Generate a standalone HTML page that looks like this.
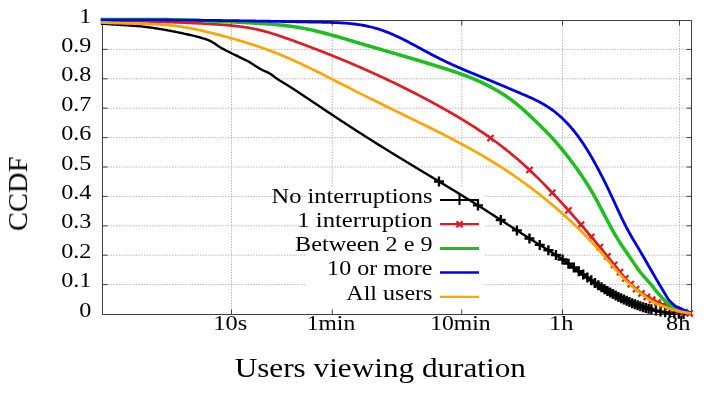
<!DOCTYPE html><html><head><meta charset="utf-8"><style>html,body{margin:0;padding:0;background:#fff;}svg{display:block;filter:blur(0.35px);}text{font-family:"Liberation Serif",serif;fill:#000;}.t{opacity:0.999;will-change:transform;}</style></head><body>
<svg width="709" height="396" viewBox="0 0 709 396">
<rect width="709" height="396" fill="#fff"/>
<path d="M102.0,284.60 H691.0 M102.0,255.20 H691.0 M102.0,225.80 H691.0 M102.0,196.40 H691.0 M102.0,167.00 H691.0 M102.0,137.60 H691.0 M102.0,108.20 H691.0 M102.0,78.80 H691.0 M102.0,49.40 H691.0 M231.50,20.0 V314.0 M332.27,20.0 V314.0 M461.77,20.0 V314.0 M562.54,20.0 V314.0 M679.49,20.0 V314.0" stroke="#b4b4b4" stroke-width="1" stroke-dasharray="1.4 1.4" fill="none"/>
<rect x="306" y="187" width="178.5" height="127" fill="#fff"/>
<path d="M102.5,20.5 H691.5 V314.5 H102.5 Z" stroke="#404040" stroke-width="1" fill="none"/>
<path d="M102.5,314.50h5M691.5,314.50h-5M102.5,284.60h5M691.5,284.60h-5M102.5,255.20h5M691.5,255.20h-5M102.5,225.80h5M691.5,225.80h-5M102.5,196.40h5M691.5,196.40h-5M102.5,167.00h5M691.5,167.00h-5M102.5,137.60h5M691.5,137.60h-5M102.5,108.20h5M691.5,108.20h-5M102.5,78.80h5M691.5,78.80h-5M102.5,49.40h5M691.5,49.40h-5M102.5,20.50h5M691.5,20.50h-5M231.50,314.5v-5M231.50,20.5v5M332.27,314.5v-5M332.27,20.5v5M461.77,314.5v-5M461.77,20.5v5M562.54,314.5v-5M562.54,20.5v5M679.49,314.5v-5M679.49,20.5v5" stroke="#404040" stroke-width="1" fill="none"/>
<path d="M100.8,23.70 L102.0,23.70 L103.0,23.77 L104.0,23.83 L105.0,23.90 L106.0,23.96 L107.0,24.03 L108.0,24.09 L109.0,24.16 L110.0,24.23 L111.0,24.29 L112.0,24.36 L113.0,24.43 L114.0,24.49 L115.0,24.56 L116.0,24.63 L117.0,24.70 L118.0,24.76 L119.0,24.83 L120.0,24.90 L121.0,24.97 L122.0,25.03 L123.0,25.10 L124.0,25.16 L125.0,25.23 L126.0,25.29 L127.0,25.35 L128.0,25.41 L129.0,25.48 L130.0,25.54 L131.0,25.61 L132.0,25.68 L133.0,25.74 L134.0,25.82 L135.0,25.89 L136.0,25.96 L137.0,26.04 L138.0,26.13 L139.0,26.21 L140.0,26.30 L141.0,26.40 L142.0,26.50 L143.0,26.61 L144.0,26.72 L145.0,26.84 L146.0,26.97 L147.0,27.10 L148.0,27.23 L149.0,27.36 L150.0,27.50 L151.0,27.64 L152.0,27.78 L153.0,27.92 L154.0,28.07 L155.0,28.22 L156.0,28.37 L157.0,28.53 L158.0,28.69 L159.0,28.85 L160.0,29.01 L161.0,29.18 L162.0,29.35 L163.0,29.52 L164.0,29.69 L165.0,29.87 L166.0,30.04 L167.0,30.22 L168.0,30.40 L169.0,30.58 L170.0,30.76 L171.0,30.95 L172.0,31.14 L173.0,31.34 L174.0,31.53 L175.0,31.73 L176.0,31.93 L177.0,32.14 L178.0,32.34 L179.0,32.55 L180.0,32.76 L181.0,32.97 L182.0,33.19 L183.0,33.40 L184.0,33.62 L185.0,33.84 L186.0,34.06 L187.0,34.29 L188.0,34.51 L189.0,34.74 L190.0,34.97 L191.0,35.20 L192.0,35.44 L193.0,35.68 L194.0,35.92 L195.0,36.17 L196.0,36.42 L197.0,36.68 L198.0,36.94 L199.0,37.21 L200.0,37.48 L201.0,37.76 L202.0,38.04 L203.0,38.32 L204.0,38.62 L205.0,38.93 L206.0,39.26 L207.0,39.61 L208.0,40.00 L209.0,40.43 L210.0,40.90 L211.0,41.41 L212.0,41.94 L213.0,42.50 L214.0,43.10 L215.0,43.76 L216.0,44.47 L217.0,45.18 L218.0,45.89 L219.0,46.57 L220.0,47.20 L221.0,47.78 L222.0,48.35 L223.0,48.89 L224.0,49.42 L225.0,49.94 L226.0,50.45 L227.0,50.95 L228.0,51.45 L229.0,51.95 L230.0,52.45 L231.0,52.95 L232.0,53.45 L233.0,53.95 L234.0,54.45 L235.0,54.94 L236.0,55.43 L237.0,55.92 L238.0,56.41 L239.0,56.90 L240.0,57.40 L241.0,57.89 L242.0,58.37 L243.0,58.85 L244.0,59.33 L245.0,59.81 L246.0,60.29 L247.0,60.79 L248.0,61.31 L249.0,61.84 L250.0,62.40 L251.0,63.00 L252.0,63.65 L253.0,64.32 L254.0,65.00 L255.0,65.66 L256.0,66.30 L257.0,66.91 L258.0,67.52 L259.0,68.11 L260.0,68.69 L261.0,69.26 L262.0,69.80 L263.0,70.31 L264.0,70.79 L265.0,71.25 L266.0,71.70 L267.0,72.15 L268.0,72.63 L269.0,73.14 L270.0,73.70 L271.0,74.33 L272.0,75.03 L273.0,75.78 L274.0,76.56 L275.0,77.34 L276.0,78.09 L277.0,78.80 L278.0,79.45 L279.0,80.08 L280.0,80.69 L281.0,81.30 L282.0,81.90 L283.0,82.50 L284.0,83.10 L285.0,83.70 L286.0,84.30 L287.0,84.92 L288.0,85.54 L289.0,86.16 L290.0,86.80 L291.0,87.43 L292.0,88.08 L293.0,88.73 L294.0,89.38 L295.0,90.04 L296.0,90.69 L297.0,91.35 L298.0,92.01 L299.0,92.67 L300.0,93.33 L301.0,94.00 L302.0,94.66 L303.0,95.33 L304.0,95.99 L305.0,96.66 L306.0,97.33 L307.0,98.00 L308.0,98.66 L309.0,99.33 L310.0,100.00 L311.0,100.67 L312.0,101.34 L313.0,102.01 L314.0,102.68 L315.0,103.35 L316.0,104.02 L317.0,104.69 L318.0,105.36 L319.0,106.03 L320.0,106.70 L321.0,107.37 L322.0,108.04 L323.0,108.71 L324.0,109.38 L325.0,110.04 L326.0,110.71 L327.0,111.38 L328.0,112.04 L329.0,112.71 L330.0,113.37 L331.0,114.03 L332.0,114.69 L333.0,115.36 L334.0,116.02 L335.0,116.68 L336.0,117.34 L337.0,118.00 L338.0,118.66 L339.0,119.31 L340.0,119.97 L341.0,120.63 L342.0,121.28 L343.0,121.94 L344.0,122.59 L345.0,123.25 L346.0,123.90 L347.0,124.55 L348.0,125.20 L349.0,125.85 L350.0,126.50 L351.0,127.15 L352.0,127.80 L353.0,128.45 L354.0,129.09 L355.0,129.74 L356.0,130.39 L357.0,131.03 L358.0,131.67 L359.0,132.32 L360.0,132.96 L361.0,133.60 L362.0,134.24 L363.0,134.88 L364.0,135.52 L365.0,136.15 L366.0,136.79 L367.0,137.43 L368.0,138.06 L369.0,138.70 L370.0,139.33 L371.0,139.96 L372.0,140.59 L373.0,141.22 L374.0,141.85 L375.0,142.48 L376.0,143.11 L377.0,143.74 L378.0,144.36 L379.0,144.99 L380.0,145.61 L381.0,146.23 L382.0,146.86 L383.0,147.48 L384.0,148.10 L385.0,148.72 L386.0,149.34 L387.0,149.95 L388.0,150.57 L389.0,151.19 L390.0,151.80 L391.0,152.42 L392.0,153.03 L393.0,153.64 L394.0,154.26 L395.0,154.87 L396.0,155.48 L397.0,156.09 L398.0,156.70 L399.0,157.31 L400.0,157.92 L401.0,158.53 L402.0,159.13 L403.0,159.74 L404.0,160.35 L405.0,160.95 L406.0,161.56 L407.0,162.17 L408.0,162.77 L409.0,163.38 L410.0,163.98 L411.0,164.58 L412.0,165.19 L413.0,165.79 L414.0,166.39 L415.0,167.00 L416.0,167.60 L417.0,168.20 L418.0,168.81 L419.0,169.41 L420.0,170.01 L421.0,170.61 L422.0,171.21 L423.0,171.82 L424.0,172.42 L425.0,173.02 L426.0,173.62 L427.0,174.22 L428.0,174.82 L429.0,175.43 L430.0,176.03 L431.0,176.63 L432.0,177.23 L433.0,177.83 L434.0,178.44 L435.0,179.04 L436.0,179.64 L437.0,180.24 L438.0,180.85 L439.0,181.45 L440.0,182.05 L441.0,182.66 L442.0,183.26 L443.0,183.87 L444.0,184.47 L445.0,185.08 L446.0,185.68 L447.0,186.29 L448.0,186.90 L449.0,187.51 L450.0,188.11 L451.0,188.72 L452.0,189.33 L453.0,189.94 L454.0,190.55 L455.0,191.16 L456.0,191.77 L457.0,192.38 L458.0,193.00 L459.0,193.61 L460.0,194.22 L461.0,194.84 L462.0,195.45 L463.0,196.07 L464.0,196.69 L465.0,197.30 L466.0,197.92 L467.0,198.54 L468.0,199.16 L469.0,199.78 L470.0,200.41 L471.0,201.03 L472.0,201.65 L473.0,202.28 L474.0,202.90 L475.0,203.53 L476.0,204.16 L477.0,204.79 L478.0,205.42 L479.0,206.05 L480.0,206.68 L481.0,207.31 L482.0,207.95 L483.0,208.58 L484.0,209.22 L485.0,209.86 L486.0,210.49 L487.0,211.13 L488.0,211.77 L489.0,212.41 L490.0,213.05 L491.0,213.69 L492.0,214.33 L493.0,214.98 L494.0,215.62 L495.0,216.26 L496.0,216.91 L497.0,217.55 L498.0,218.19 L499.0,218.84 L500.0,219.48 L501.0,220.13 L502.0,220.77 L503.0,221.42 L504.0,222.06 L505.0,222.71 L506.0,223.35 L507.0,224.00 L508.0,224.64 L509.0,225.29 L510.0,225.93 L511.0,226.58 L512.0,227.22 L513.0,227.87 L514.0,228.51 L515.0,229.16 L516.0,229.80 L517.0,230.44 L518.0,231.09 L519.0,231.73 L520.0,232.37 L521.0,233.01 L522.0,233.65 L523.0,234.29 L524.0,234.93 L525.0,235.57 L526.0,236.21 L527.0,236.85 L528.0,237.48 L529.0,238.12 L530.0,238.75 L531.0,239.39 L532.0,240.02 L533.0,240.65 L534.0,241.28 L535.0,241.91 L536.0,242.54 L537.0,243.17 L538.0,243.80 L539.0,244.42 L540.0,245.05 L541.0,245.67 L542.0,246.29 L543.0,246.91 L544.0,247.53 L545.0,248.15 L546.0,248.78 L547.0,249.40 L548.0,250.02 L549.0,250.65 L550.0,251.28 L551.0,251.91 L552.0,252.54 L553.0,253.18 L554.0,253.82 L555.0,254.46 L556.0,255.11 L557.0,255.76 L558.0,256.41 L559.0,257.08 L560.0,257.75 L561.0,258.42 L562.0,259.10 L563.0,259.79 L564.0,260.48 L565.0,261.18 L566.0,261.89 L567.0,262.60 L568.0,263.31 L569.0,264.03 L570.0,264.76 L571.0,265.49 L572.0,266.22 L573.0,266.95 L574.0,267.69 L575.0,268.43 L576.0,269.17 L577.0,269.91 L578.0,270.65 L579.0,271.39 L580.0,272.14 L581.0,272.88 L582.0,273.62 L583.0,274.36 L584.0,275.10 L585.0,275.83 L586.0,276.56 L587.0,277.29 L588.0,278.02 L589.0,278.74 L590.0,279.46 L591.0,280.17 L592.0,280.88 L593.0,281.58 L594.0,282.28 L595.0,282.97 L596.0,283.65 L597.0,284.33 L598.0,284.99 L599.0,285.65 L600.0,286.31 L601.0,286.95 L602.0,287.59 L603.0,288.22 L604.0,288.84 L605.0,289.45 L606.0,290.06 L607.0,290.66 L608.0,291.25 L609.0,291.83 L610.0,292.41 L611.0,292.97 L612.0,293.53 L613.0,294.09 L614.0,294.63 L615.0,295.17 L616.0,295.70 L617.0,296.22 L618.0,296.73 L619.0,297.24 L620.0,297.73 L621.0,298.22 L622.0,298.70 L623.0,299.18 L624.0,299.65 L625.0,300.10 L626.0,300.56 L627.0,301.00 L628.0,301.43 L629.0,301.86 L630.0,302.28 L631.0,302.69 L632.0,303.10 L633.0,303.50 L634.0,303.89 L635.0,304.28 L636.0,304.67 L637.0,305.05 L638.0,305.42 L639.0,305.78 L640.0,306.13 L641.0,306.46 L642.0,306.78 L643.0,307.09 L644.0,307.39 L645.0,307.67 L646.0,307.95 L647.0,308.21 L648.0,308.47 L649.0,308.74 L650.0,309.00 L651.0,309.27 L652.0,309.54 L653.0,309.81 L654.0,310.08 L655.0,310.35 L656.0,310.60 L657.0,310.85 L658.0,311.08 L659.0,311.30 L660.0,311.50 L661.0,311.68 L662.0,311.86 L663.0,312.03 L664.0,312.20 L665.0,312.35 L666.0,312.50 L667.0,312.64 L668.0,312.77 L669.0,312.89 L670.0,313.00 L671.0,313.10 L672.0,313.20 L673.0,313.29 L674.0,313.38 L675.0,313.46 L676.0,313.53 L677.0,313.61 L678.0,313.68 L679.0,313.74 L680.0,313.80 L681.0,313.86 L682.0,313.91 L683.0,313.97 L684.0,314.00 L685.0,314.00 L686.0,314.00 L687.0,314.00 L688.0,314.00 L689.0,314.00 L690.0,314.00 L691.0,314.00" stroke="#000000" stroke-width="2.4" fill="none" stroke-linejoin="round"/>
<path d="M433.97,181.43h10.0M438.97,176.43v10.0M472.95,205.39h10.0M477.95,200.39v10.0M495.75,219.97h10.0M500.75,214.97v10.0M511.93,230.40h10.0M516.93,225.40v10.0M524.48,238.43h10.0M529.48,233.43v10.0M534.74,244.88h10.0M539.74,239.88v10.0M543.41,250.28h10.0M548.41,245.28v10.0M550.92,255.05h10.0M555.92,250.05v10.0M557.54,259.47h10.0M562.54,254.47v10.0M563.47,263.65h10.0M568.47,258.65v10.0M568.83,267.56h10.0M573.83,262.56v10.0M573.72,271.19h10.0M578.72,266.19v10.0M578.22,274.52h10.0M583.22,269.52v10.0M582.39,277.58h10.0M587.39,272.58v10.0M586.27,280.36h10.0M591.27,275.36v10.0M589.90,282.90h10.0M594.90,277.90v10.0M593.31,285.20h10.0M598.31,280.20v10.0M596.52,287.29h10.0M601.52,282.29v10.0M599.57,289.19h10.0M604.57,284.19v10.0M602.45,290.92h10.0M607.45,285.92v10.0M605.19,292.52h10.0M610.19,287.52v10.0M607.94,294.05h10.0M612.94,289.05v10.0M610.68,295.53h10.0M615.68,290.53v10.0M613.43,296.95h10.0M618.43,291.95v10.0M616.17,298.31h10.0M621.17,293.31v10.0M618.91,299.61h10.0M623.91,294.61v10.0M621.66,300.85h10.0M626.66,295.85v10.0M624.40,302.03h10.0M629.40,297.03v10.0M627.15,303.16h10.0M632.15,298.16v10.0M629.89,304.24h10.0M634.89,299.24v10.0M632.63,305.28h10.0M637.63,300.28v10.0M635.38,306.25h10.0M640.38,301.25v10.0M638.12,307.13h10.0M643.12,302.13v10.0M640.87,307.91h10.0M645.87,302.91v10.0M643.61,308.63h10.0M648.61,303.63v10.0M646.35,309.36h10.0M651.35,304.36v10.0M650.94,310.59h10.0M655.94,305.59v10.0M655.53,311.60h10.0M660.53,306.60v10.0M660.12,312.37h10.0M665.12,307.37v10.0M664.71,312.97h10.0M669.71,307.97v10.0M669.30,313.40h10.0M674.30,308.40v10.0M673.88,313.73h10.0M678.88,308.73v10.0M678.47,313.99h10.0M683.47,308.99v10.0" stroke="#000" stroke-width="2.4" fill="none"/>
<path d="M100.8,20.10 L102.0,20.10 L103.0,20.14 L104.0,20.17 L105.0,20.21 L106.0,20.25 L107.0,20.29 L108.0,20.32 L109.0,20.36 L110.0,20.39 L111.0,20.43 L112.0,20.46 L113.0,20.49 L114.0,20.53 L115.0,20.56 L116.0,20.59 L117.0,20.62 L118.0,20.65 L119.0,20.69 L120.0,20.72 L121.0,20.75 L122.0,20.78 L123.0,20.81 L124.0,20.84 L125.0,20.87 L126.0,20.89 L127.0,20.92 L128.0,20.95 L129.0,20.98 L130.0,21.01 L131.0,21.04 L132.0,21.06 L133.0,21.09 L134.0,21.12 L135.0,21.15 L136.0,21.17 L137.0,21.20 L138.0,21.23 L139.0,21.25 L140.0,21.28 L141.0,21.31 L142.0,21.34 L143.0,21.36 L144.0,21.39 L145.0,21.42 L146.0,21.44 L147.0,21.47 L148.0,21.50 L149.0,21.53 L150.0,21.55 L151.0,21.58 L152.0,21.61 L153.0,21.64 L154.0,21.66 L155.0,21.69 L156.0,21.72 L157.0,21.75 L158.0,21.78 L159.0,21.81 L160.0,21.84 L161.0,21.87 L162.0,21.90 L163.0,21.93 L164.0,21.96 L165.0,21.99 L166.0,22.02 L167.0,22.05 L168.0,22.08 L169.0,22.11 L170.0,22.15 L171.0,22.18 L172.0,22.21 L173.0,22.25 L174.0,22.28 L175.0,22.32 L176.0,22.35 L177.0,22.39 L178.0,22.43 L179.0,22.46 L180.0,22.50 L181.0,22.54 L182.0,22.58 L183.0,22.62 L184.0,22.66 L185.0,22.70 L186.0,22.74 L187.0,22.78 L188.0,22.82 L189.0,22.87 L190.0,22.91 L191.0,22.96 L192.0,23.00 L193.0,23.05 L194.0,23.09 L195.0,23.14 L196.0,23.19 L197.0,23.24 L198.0,23.29 L199.0,23.34 L200.0,23.39 L201.0,23.45 L202.0,23.50 L203.0,23.56 L204.0,23.61 L205.0,23.67 L206.0,23.73 L207.0,23.78 L208.0,23.84 L209.0,23.90 L210.0,23.97 L211.0,24.03 L212.0,24.09 L213.0,24.16 L214.0,24.22 L215.0,24.29 L216.0,24.36 L217.0,24.42 L218.0,24.49 L219.0,24.57 L220.0,24.64 L221.0,24.71 L222.0,24.79 L223.0,24.86 L224.0,24.94 L225.0,25.02 L226.0,25.10 L227.0,25.19 L228.0,25.27 L229.0,25.36 L230.0,25.45 L231.0,25.55 L232.0,25.64 L233.0,25.74 L234.0,25.84 L235.0,25.95 L236.0,26.06 L237.0,26.17 L238.0,26.29 L239.0,26.41 L240.0,26.53 L241.0,26.66 L242.0,26.79 L243.0,26.93 L244.0,27.07 L245.0,27.22 L246.0,27.37 L247.0,27.53 L248.0,27.69 L249.0,27.86 L250.0,28.03 L251.0,28.21 L252.0,28.39 L253.0,28.58 L254.0,28.78 L255.0,28.98 L256.0,29.19 L257.0,29.40 L258.0,29.63 L259.0,29.85 L260.0,30.09 L261.0,30.33 L262.0,30.58 L263.0,30.84 L264.0,31.10 L265.0,31.37 L266.0,31.65 L267.0,31.93 L268.0,32.22 L269.0,32.51 L270.0,32.81 L271.0,33.11 L272.0,33.42 L273.0,33.73 L274.0,34.05 L275.0,34.37 L276.0,34.69 L277.0,35.02 L278.0,35.35 L279.0,35.69 L280.0,36.03 L281.0,36.37 L282.0,36.72 L283.0,37.06 L284.0,37.41 L285.0,37.77 L286.0,38.12 L287.0,38.48 L288.0,38.83 L289.0,39.19 L290.0,39.55 L291.0,39.91 L292.0,40.27 L293.0,40.63 L294.0,41.00 L295.0,41.36 L296.0,41.73 L297.0,42.09 L298.0,42.46 L299.0,42.83 L300.0,43.20 L301.0,43.56 L302.0,43.94 L303.0,44.31 L304.0,44.68 L305.0,45.05 L306.0,45.43 L307.0,45.80 L308.0,46.18 L309.0,46.56 L310.0,46.93 L311.0,47.31 L312.0,47.69 L313.0,48.08 L314.0,48.46 L315.0,48.84 L316.0,49.23 L317.0,49.61 L318.0,50.00 L319.0,50.39 L320.0,50.77 L321.0,51.16 L322.0,51.55 L323.0,51.95 L324.0,52.34 L325.0,52.73 L326.0,53.13 L327.0,53.52 L328.0,53.92 L329.0,54.32 L330.0,54.72 L331.0,55.12 L332.0,55.52 L333.0,55.92 L334.0,56.33 L335.0,56.73 L336.0,57.14 L337.0,57.55 L338.0,57.95 L339.0,58.36 L340.0,58.77 L341.0,59.19 L342.0,59.60 L343.0,60.01 L344.0,60.43 L345.0,60.85 L346.0,61.26 L347.0,61.68 L348.0,62.10 L349.0,62.52 L350.0,62.95 L351.0,63.37 L352.0,63.80 L353.0,64.22 L354.0,64.65 L355.0,65.08 L356.0,65.51 L357.0,65.94 L358.0,66.37 L359.0,66.81 L360.0,67.24 L361.0,67.68 L362.0,68.11 L363.0,68.55 L364.0,68.99 L365.0,69.43 L366.0,69.88 L367.0,70.32 L368.0,70.77 L369.0,71.21 L370.0,71.66 L371.0,72.11 L372.0,72.56 L373.0,73.01 L374.0,73.47 L375.0,73.92 L376.0,74.38 L377.0,74.84 L378.0,75.29 L379.0,75.75 L380.0,76.22 L381.0,76.68 L382.0,77.14 L383.0,77.61 L384.0,78.08 L385.0,78.54 L386.0,79.01 L387.0,79.49 L388.0,79.96 L389.0,80.43 L390.0,80.91 L391.0,81.39 L392.0,81.86 L393.0,82.34 L394.0,82.83 L395.0,83.31 L396.0,83.79 L397.0,84.28 L398.0,84.77 L399.0,85.26 L400.0,85.75 L401.0,86.24 L402.0,86.73 L403.0,87.23 L404.0,87.72 L405.0,88.22 L406.0,88.72 L407.0,89.22 L408.0,89.72 L409.0,90.23 L410.0,90.73 L411.0,91.24 L412.0,91.75 L413.0,92.26 L414.0,92.77 L415.0,93.28 L416.0,93.80 L417.0,94.31 L418.0,94.83 L419.0,95.35 L420.0,95.87 L421.0,96.40 L422.0,96.92 L423.0,97.45 L424.0,97.97 L425.0,98.50 L426.0,99.03 L427.0,99.57 L428.0,100.10 L429.0,100.64 L430.0,101.17 L431.0,101.71 L432.0,102.25 L433.0,102.80 L434.0,103.34 L435.0,103.89 L436.0,104.43 L437.0,104.98 L438.0,105.53 L439.0,106.09 L440.0,106.64 L441.0,107.20 L442.0,107.76 L443.0,108.32 L444.0,108.88 L445.0,109.44 L446.0,110.00 L447.0,110.57 L448.0,111.14 L449.0,111.71 L450.0,112.28 L451.0,112.86 L452.0,113.44 L453.0,114.02 L454.0,114.60 L455.0,115.18 L456.0,115.77 L457.0,116.36 L458.0,116.95 L459.0,117.55 L460.0,118.14 L461.0,118.74 L462.0,119.35 L463.0,119.95 L464.0,120.56 L465.0,121.18 L466.0,121.79 L467.0,122.41 L468.0,123.03 L469.0,123.66 L470.0,124.28 L471.0,124.92 L472.0,125.55 L473.0,126.19 L474.0,126.83 L475.0,127.48 L476.0,128.13 L477.0,128.78 L478.0,129.44 L479.0,130.10 L480.0,130.76 L481.0,131.43 L482.0,132.11 L483.0,132.78 L484.0,133.47 L485.0,134.15 L486.0,134.84 L487.0,135.54 L488.0,136.24 L489.0,136.94 L490.0,137.65 L491.0,138.36 L492.0,139.08 L493.0,139.80 L494.0,140.53 L495.0,141.26 L496.0,142.00 L497.0,142.74 L498.0,143.49 L499.0,144.24 L500.0,145.00 L501.0,145.76 L502.0,146.53 L503.0,147.30 L504.0,148.08 L505.0,148.87 L506.0,149.66 L507.0,150.45 L508.0,151.26 L509.0,152.06 L510.0,152.88 L511.0,153.69 L512.0,154.52 L513.0,155.35 L514.0,156.19 L515.0,157.03 L516.0,157.88 L517.0,158.74 L518.0,159.60 L519.0,160.47 L520.0,161.34 L521.0,162.22 L522.0,163.11 L523.0,164.01 L524.0,164.91 L525.0,165.81 L526.0,166.73 L527.0,167.64 L528.0,168.57 L529.0,169.50 L530.0,170.44 L531.0,171.38 L532.0,172.33 L533.0,173.29 L534.0,174.25 L535.0,175.21 L536.0,176.18 L537.0,177.16 L538.0,178.14 L539.0,179.13 L540.0,180.12 L541.0,181.12 L542.0,182.13 L543.0,183.14 L544.0,184.15 L545.0,185.17 L546.0,186.19 L547.0,187.22 L548.0,188.26 L549.0,189.30 L550.0,190.34 L551.0,191.39 L552.0,192.44 L553.0,193.50 L554.0,194.56 L555.0,195.63 L556.0,196.70 L557.0,197.77 L558.0,198.85 L559.0,199.93 L560.0,201.02 L561.0,202.11 L562.0,203.21 L563.0,204.31 L564.0,205.41 L565.0,206.52 L566.0,207.63 L567.0,208.74 L568.0,209.86 L569.0,210.98 L570.0,212.11 L571.0,213.24 L572.0,214.37 L573.0,215.50 L574.0,216.64 L575.0,217.78 L576.0,218.93 L577.0,220.08 L578.0,221.23 L579.0,222.38 L580.0,223.54 L581.0,224.70 L582.0,225.86 L583.0,227.03 L584.0,228.19 L585.0,229.36 L586.0,230.54 L587.0,231.71 L588.0,232.89 L589.0,234.07 L590.0,235.25 L591.0,236.44 L592.0,237.62 L593.0,238.81 L594.0,240.00 L595.0,241.20 L596.0,242.39 L597.0,243.59 L598.0,244.79 L599.0,246.00 L600.0,247.21 L601.0,248.43 L602.0,249.65 L603.0,250.87 L604.0,252.10 L605.0,253.34 L606.0,254.58 L607.0,255.83 L608.0,257.08 L609.0,258.34 L610.0,259.61 L611.0,260.88 L612.0,262.15 L613.0,263.41 L614.0,264.68 L615.0,265.94 L616.0,267.20 L617.0,268.44 L618.0,269.68 L619.0,270.91 L620.0,272.13 L621.0,273.33 L622.0,274.51 L623.0,275.68 L624.0,276.83 L625.0,277.97 L626.0,279.09 L627.0,280.18 L628.0,281.26 L629.0,282.32 L630.0,283.36 L631.0,284.37 L632.0,285.36 L633.0,286.33 L634.0,287.28 L635.0,288.19 L636.0,289.08 L637.0,289.95 L638.0,290.79 L639.0,291.61 L640.0,292.41 L641.0,293.17 L642.0,293.90 L643.0,294.60 L644.0,295.27 L645.0,295.91 L646.0,296.52 L647.0,297.08 L648.0,297.60 L649.0,298.12 L650.0,298.62 L651.0,299.13 L652.0,299.66 L653.0,300.21 L654.0,300.76 L655.0,301.31 L656.0,301.85 L657.0,302.35 L658.0,302.83 L659.0,303.28 L660.0,303.72 L661.0,304.14 L662.0,304.55 L663.0,304.96 L664.0,305.36 L665.0,305.77 L666.0,306.17 L667.0,306.58 L668.0,306.98 L669.0,307.37 L670.0,307.76 L671.0,308.14 L672.0,308.50 L673.0,308.85 L674.0,309.19 L675.0,309.50 L676.0,309.80 L677.0,310.10 L678.0,310.39 L679.0,310.68 L680.0,310.96 L681.0,311.23 L682.0,311.50 L683.0,311.76 L684.0,312.01 L685.0,312.25 L686.0,312.48 L687.0,312.71 L688.0,312.92 L689.0,313.13 L690.0,313.32 L691.0,313.50" stroke="#e01b24" stroke-width="2.7" fill="none" stroke-linejoin="round"/>
<path d="M487.40,134.91l6.2,6.2M487.40,141.11l6.2,-6.2M526.38,166.85l6.2,6.2M526.38,173.05l6.2,-6.2M549.19,189.64l6.2,6.2M549.19,195.84l6.2,-6.2M565.37,207.28l6.2,6.2M565.37,213.48l6.2,-6.2M577.92,221.62l6.2,6.2M577.92,227.82l6.2,-6.2M588.17,233.66l6.2,6.2M588.17,239.86l6.2,-6.2M596.84,244.04l6.2,6.2M596.84,250.24l6.2,-6.2M604.35,253.29l6.2,6.2M604.35,259.49l6.2,-6.2M610.97,261.67l6.2,6.2M610.97,267.87l6.2,-6.2M616.90,269.03l6.2,6.2M616.90,275.23l6.2,-6.2M622.26,275.27l6.2,6.2M622.26,281.47l6.2,-6.2M627.62,280.99l6.2,6.2M627.62,287.19l6.2,-6.2M632.98,286.05l6.2,6.2M632.98,292.25l6.2,-6.2M638.34,290.39l6.2,6.2M638.34,296.59l6.2,-6.2M643.70,293.87l6.2,6.2M643.70,300.07l6.2,-6.2M649.06,296.65l6.2,6.2M649.06,302.85l6.2,-6.2M654.42,299.51l6.2,6.2M654.42,305.71l6.2,-6.2M659.78,301.81l6.2,6.2M659.78,308.01l6.2,-6.2M665.14,303.98l6.2,6.2M665.14,310.18l6.2,-6.2M670.50,305.96l6.2,6.2M670.50,312.16l6.2,-6.2M675.86,307.57l6.2,6.2M675.86,313.77l6.2,-6.2M681.22,308.99l6.2,6.2M681.22,315.19l6.2,-6.2M686.58,310.16l6.2,6.2M686.58,316.36l6.2,-6.2" stroke="#e01b24" stroke-width="2.2" fill="none"/>
<path d="M100.8,19.60 L102.0,19.60 L103.0,19.60 L104.0,19.60 L105.0,19.60 L106.0,19.60 L107.0,19.60 L108.0,19.60 L109.0,19.60 L110.0,19.60 L111.0,19.60 L112.0,19.60 L113.0,19.60 L114.0,19.60 L115.0,19.60 L116.0,19.60 L117.0,19.60 L118.0,19.60 L119.0,19.60 L120.0,19.60 L121.0,19.60 L122.0,19.60 L123.0,19.60 L124.0,19.60 L125.0,19.60 L126.0,19.60 L127.0,19.60 L128.0,19.60 L129.0,19.60 L130.0,19.60 L131.0,19.60 L132.0,19.60 L133.0,19.60 L134.0,19.60 L135.0,19.60 L136.0,19.60 L137.0,19.60 L138.0,19.60 L139.0,19.60 L140.0,19.60 L141.0,19.60 L142.0,19.60 L143.0,19.60 L144.0,19.60 L145.0,19.60 L146.0,19.60 L147.0,19.60 L148.0,19.60 L149.0,19.60 L150.0,19.60 L151.0,19.60 L152.0,19.60 L153.0,19.60 L154.0,19.60 L155.0,19.60 L156.0,19.60 L157.0,19.60 L158.0,19.60 L159.0,19.60 L160.0,19.60 L161.0,19.60 L162.0,19.60 L163.0,19.60 L164.0,19.60 L165.0,19.60 L166.0,19.60 L167.0,19.60 L168.0,19.61 L169.0,19.63 L170.0,19.66 L171.0,19.68 L172.0,19.70 L173.0,19.72 L174.0,19.75 L175.0,19.77 L176.0,19.80 L177.0,19.82 L178.0,19.85 L179.0,19.87 L180.0,19.90 L181.0,19.93 L182.0,19.96 L183.0,19.98 L184.0,20.01 L185.0,20.04 L186.0,20.07 L187.0,20.10 L188.0,20.13 L189.0,20.17 L190.0,20.20 L191.0,20.23 L192.0,20.26 L193.0,20.30 L194.0,20.33 L195.0,20.36 L196.0,20.40 L197.0,20.43 L198.0,20.47 L199.0,20.50 L200.0,20.54 L201.0,20.58 L202.0,20.61 L203.0,20.65 L204.0,20.69 L205.0,20.73 L206.0,20.77 L207.0,20.81 L208.0,20.85 L209.0,20.89 L210.0,20.93 L211.0,20.97 L212.0,21.01 L213.0,21.05 L214.0,21.09 L215.0,21.14 L216.0,21.18 L217.0,21.22 L218.0,21.27 L219.0,21.31 L220.0,21.36 L221.0,21.40 L222.0,21.45 L223.0,21.49 L224.0,21.54 L225.0,21.58 L226.0,21.63 L227.0,21.68 L228.0,21.73 L229.0,21.77 L230.0,21.82 L231.0,21.87 L232.0,21.92 L233.0,21.97 L234.0,22.02 L235.0,22.07 L236.0,22.12 L237.0,22.17 L238.0,22.22 L239.0,22.27 L240.0,22.32 L241.0,22.37 L242.0,22.43 L243.0,22.48 L244.0,22.53 L245.0,22.58 L246.0,22.64 L247.0,22.69 L248.0,22.74 L249.0,22.80 L250.0,22.85 L251.0,22.91 L252.0,22.96 L253.0,23.02 L254.0,23.07 L255.0,23.13 L256.0,23.19 L257.0,23.24 L258.0,23.30 L259.0,23.36 L260.0,23.42 L261.0,23.49 L262.0,23.55 L263.0,23.61 L264.0,23.68 L265.0,23.75 L266.0,23.82 L267.0,23.89 L268.0,23.96 L269.0,24.03 L270.0,24.11 L271.0,24.19 L272.0,24.27 L273.0,24.35 L274.0,24.43 L275.0,24.52 L276.0,24.61 L277.0,24.70 L278.0,24.79 L279.0,24.89 L280.0,24.99 L281.0,25.09 L282.0,25.20 L283.0,25.31 L284.0,25.42 L285.0,25.53 L286.0,25.65 L287.0,25.77 L288.0,25.90 L289.0,26.03 L290.0,26.16 L291.0,26.29 L292.0,26.43 L293.0,26.57 L294.0,26.72 L295.0,26.87 L296.0,27.03 L297.0,27.19 L298.0,27.35 L299.0,27.52 L300.0,27.69 L301.0,27.87 L302.0,28.05 L303.0,28.24 L304.0,28.43 L305.0,28.62 L306.0,28.82 L307.0,29.02 L308.0,29.23 L309.0,29.44 L310.0,29.65 L311.0,29.87 L312.0,30.09 L313.0,30.32 L314.0,30.54 L315.0,30.78 L316.0,31.01 L317.0,31.25 L318.0,31.49 L319.0,31.74 L320.0,31.98 L321.0,32.23 L322.0,32.49 L323.0,32.74 L324.0,33.00 L325.0,33.26 L326.0,33.52 L327.0,33.79 L328.0,34.06 L329.0,34.33 L330.0,34.60 L331.0,34.88 L332.0,35.15 L333.0,35.43 L334.0,35.71 L335.0,35.99 L336.0,36.28 L337.0,36.56 L338.0,36.85 L339.0,37.13 L340.0,37.42 L341.0,37.71 L342.0,38.01 L343.0,38.30 L344.0,38.59 L345.0,38.89 L346.0,39.18 L347.0,39.48 L348.0,39.77 L349.0,40.07 L350.0,40.37 L351.0,40.66 L352.0,40.96 L353.0,41.26 L354.0,41.56 L355.0,41.86 L356.0,42.16 L357.0,42.45 L358.0,42.75 L359.0,43.05 L360.0,43.35 L361.0,43.64 L362.0,43.94 L363.0,44.24 L364.0,44.53 L365.0,44.83 L366.0,45.12 L367.0,45.42 L368.0,45.71 L369.0,46.01 L370.0,46.30 L371.0,46.59 L372.0,46.88 L373.0,47.18 L374.0,47.47 L375.0,47.76 L376.0,48.05 L377.0,48.35 L378.0,48.64 L379.0,48.93 L380.0,49.22 L381.0,49.51 L382.0,49.80 L383.0,50.09 L384.0,50.38 L385.0,50.67 L386.0,50.97 L387.0,51.26 L388.0,51.55 L389.0,51.84 L390.0,52.13 L391.0,52.42 L392.0,52.71 L393.0,53.00 L394.0,53.29 L395.0,53.58 L396.0,53.87 L397.0,54.16 L398.0,54.46 L399.0,54.75 L400.0,55.04 L401.0,55.33 L402.0,55.62 L403.0,55.92 L404.0,56.21 L405.0,56.50 L406.0,56.79 L407.0,57.09 L408.0,57.38 L409.0,57.68 L410.0,57.97 L411.0,58.26 L412.0,58.56 L413.0,58.86 L414.0,59.15 L415.0,59.45 L416.0,59.74 L417.0,60.04 L418.0,60.34 L419.0,60.64 L420.0,60.94 L421.0,61.24 L422.0,61.54 L423.0,61.84 L424.0,62.14 L425.0,62.44 L426.0,62.74 L427.0,63.04 L428.0,63.35 L429.0,63.65 L430.0,63.95 L431.0,64.26 L432.0,64.57 L433.0,64.87 L434.0,65.18 L435.0,65.49 L436.0,65.80 L437.0,66.11 L438.0,66.42 L439.0,66.73 L440.0,67.04 L441.0,67.35 L442.0,67.67 L443.0,67.98 L444.0,68.30 L445.0,68.62 L446.0,68.94 L447.0,69.26 L448.0,69.58 L449.0,69.91 L450.0,70.23 L451.0,70.56 L452.0,70.89 L453.0,71.23 L454.0,71.56 L455.0,71.90 L456.0,72.25 L457.0,72.59 L458.0,72.94 L459.0,73.29 L460.0,73.65 L461.0,74.01 L462.0,74.37 L463.0,74.74 L464.0,75.11 L465.0,75.48 L466.0,75.86 L467.0,76.25 L468.0,76.63 L469.0,77.03 L470.0,77.42 L471.0,77.83 L472.0,78.24 L473.0,78.65 L474.0,79.07 L475.0,79.49 L476.0,79.92 L477.0,80.36 L478.0,80.80 L479.0,81.25 L480.0,81.70 L481.0,82.16 L482.0,82.63 L483.0,83.10 L484.0,83.58 L485.0,84.07 L486.0,84.57 L487.0,85.07 L488.0,85.58 L489.0,86.09 L490.0,86.62 L491.0,87.15 L492.0,87.69 L493.0,88.24 L494.0,88.79 L495.0,89.36 L496.0,89.93 L497.0,90.51 L498.0,91.10 L499.0,91.70 L500.0,92.31 L501.0,92.93 L502.0,93.55 L503.0,94.19 L504.0,94.84 L505.0,95.49 L506.0,96.16 L507.0,96.84 L508.0,97.53 L509.0,98.23 L510.0,98.94 L511.0,99.66 L512.0,100.40 L513.0,101.15 L514.0,101.91 L515.0,102.68 L516.0,103.47 L517.0,104.27 L518.0,105.08 L519.0,105.91 L520.0,106.75 L521.0,107.61 L522.0,108.48 L523.0,109.36 L524.0,110.26 L525.0,111.17 L526.0,112.09 L527.0,113.03 L528.0,113.96 L529.0,114.91 L530.0,115.86 L531.0,116.81 L532.0,117.77 L533.0,118.72 L534.0,119.68 L535.0,120.63 L536.0,121.59 L537.0,122.55 L538.0,123.51 L539.0,124.47 L540.0,125.44 L541.0,126.42 L542.0,127.40 L543.0,128.39 L544.0,129.38 L545.0,130.39 L546.0,131.41 L547.0,132.44 L548.0,133.48 L549.0,134.54 L550.0,135.60 L551.0,136.68 L552.0,137.77 L553.0,138.87 L554.0,139.99 L555.0,141.12 L556.0,142.26 L557.0,143.41 L558.0,144.58 L559.0,145.75 L560.0,146.94 L561.0,148.14 L562.0,149.35 L563.0,150.58 L564.0,151.81 L565.0,153.06 L566.0,154.32 L567.0,155.60 L568.0,156.88 L569.0,158.18 L570.0,159.48 L571.0,160.80 L572.0,162.13 L573.0,163.48 L574.0,164.83 L575.0,166.20 L576.0,167.57 L577.0,168.96 L578.0,170.37 L579.0,171.79 L580.0,173.22 L581.0,174.67 L582.0,176.14 L583.0,177.62 L584.0,179.13 L585.0,180.66 L586.0,182.20 L587.0,183.77 L588.0,185.37 L589.0,186.99 L590.0,188.63 L591.0,190.30 L592.0,192.00 L593.0,193.72 L594.0,195.48 L595.0,197.26 L596.0,199.08 L597.0,200.92 L598.0,202.78 L599.0,204.66 L600.0,206.56 L601.0,208.46 L602.0,210.37 L603.0,212.29 L604.0,214.20 L605.0,216.11 L606.0,218.02 L607.0,219.91 L608.0,221.81 L609.0,223.72 L610.0,225.60 L611.0,227.46 L612.0,229.28 L613.0,231.07 L614.0,232.83 L615.0,234.56 L616.0,236.25 L617.0,237.91 L618.0,239.55 L619.0,241.16 L620.0,242.74 L621.0,244.30 L622.0,245.82 L623.0,247.30 L624.0,248.75 L625.0,250.18 L626.0,251.61 L627.0,253.04 L628.0,254.48 L629.0,255.93 L630.0,257.40 L631.0,258.89 L632.0,260.39 L633.0,261.89 L634.0,263.38 L635.0,264.86 L636.0,266.31 L637.0,267.74 L638.0,269.14 L639.0,270.49 L640.0,271.80 L641.0,273.05 L642.0,274.25 L643.0,275.41 L644.0,276.54 L645.0,277.65 L646.0,278.75 L647.0,279.85 L648.0,280.95 L649.0,282.07 L650.0,283.21 L651.0,284.39 L652.0,285.62 L653.0,286.92 L654.0,288.24 L655.0,289.55 L656.0,290.80 L657.0,291.99 L658.0,293.15 L659.0,294.28 L660.0,295.40 L661.0,296.50 L662.0,297.60 L663.0,298.70 L664.0,299.77 L665.0,300.81 L666.0,301.80 L667.0,302.75 L668.0,303.66 L669.0,304.52 L670.0,305.30 L671.0,306.02 L672.0,306.71 L673.0,307.34 L674.0,307.91 L675.0,308.40 L676.0,308.81 L677.0,309.16 L678.0,309.48 L679.0,309.79 L680.0,310.10 L681.0,310.42 L682.0,310.74 L683.0,311.04 L684.0,311.33 L685.0,311.60 L686.0,311.85 L687.0,312.09 L688.0,312.31 L689.0,312.52 L690.0,312.72 L691.0,312.90" stroke="#1ebe1e" stroke-width="3.5" fill="none" stroke-linejoin="round"/>
<path d="M100.8,19.90 L102.0,19.90 L103.0,19.90 L104.0,19.90 L105.0,19.90 L106.0,19.90 L107.0,19.90 L108.0,19.90 L109.0,19.90 L110.0,19.90 L111.0,19.90 L112.0,19.90 L113.0,19.90 L114.0,19.90 L115.0,19.90 L116.0,19.90 L117.0,19.90 L118.0,19.90 L119.0,19.90 L120.0,19.90 L121.0,19.90 L122.0,19.90 L123.0,19.90 L124.0,19.90 L125.0,19.90 L126.0,19.90 L127.0,19.90 L128.0,19.90 L129.0,19.90 L130.0,19.90 L131.0,19.90 L132.0,19.90 L133.0,19.90 L134.0,19.90 L135.0,19.90 L136.0,19.90 L137.0,19.90 L138.0,19.90 L139.0,19.90 L140.0,19.90 L141.0,19.90 L142.0,19.90 L143.0,19.90 L144.0,19.90 L145.0,19.90 L146.0,19.90 L147.0,19.90 L148.0,19.90 L149.0,19.90 L150.0,19.90 L151.0,19.90 L152.0,19.90 L153.0,19.91 L154.0,19.91 L155.0,19.92 L156.0,19.92 L157.0,19.92 L158.0,19.93 L159.0,19.93 L160.0,19.94 L161.0,19.95 L162.0,19.95 L163.0,19.96 L164.0,19.96 L165.0,19.97 L166.0,19.98 L167.0,19.98 L168.0,19.99 L169.0,19.99 L170.0,20.00 L171.0,20.01 L172.0,20.02 L173.0,20.02 L174.0,20.03 L175.0,20.04 L176.0,20.04 L177.0,20.05 L178.0,20.06 L179.0,20.07 L180.0,20.08 L181.0,20.08 L182.0,20.09 L183.0,20.10 L184.0,20.11 L185.0,20.12 L186.0,20.13 L187.0,20.14 L188.0,20.15 L189.0,20.16 L190.0,20.17 L191.0,20.18 L192.0,20.18 L193.0,20.19 L194.0,20.20 L195.0,20.21 L196.0,20.22 L197.0,20.24 L198.0,20.25 L199.0,20.26 L200.0,20.27 L201.0,20.28 L202.0,20.29 L203.0,20.30 L204.0,20.31 L205.0,20.32 L206.0,20.33 L207.0,20.35 L208.0,20.36 L209.0,20.37 L210.0,20.38 L211.0,20.39 L212.0,20.40 L213.0,20.42 L214.0,20.43 L215.0,20.44 L216.0,20.45 L217.0,20.47 L218.0,20.48 L219.0,20.49 L220.0,20.50 L221.0,20.52 L222.0,20.53 L223.0,20.54 L224.0,20.56 L225.0,20.57 L226.0,20.58 L227.0,20.60 L228.0,20.61 L229.0,20.63 L230.0,20.64 L231.0,20.65 L232.0,20.67 L233.0,20.68 L234.0,20.70 L235.0,20.71 L236.0,20.72 L237.0,20.74 L238.0,20.75 L239.0,20.77 L240.0,20.78 L241.0,20.80 L242.0,20.81 L243.0,20.83 L244.0,20.84 L245.0,20.86 L246.0,20.87 L247.0,20.89 L248.0,20.91 L249.0,20.92 L250.0,20.94 L251.0,20.95 L252.0,20.97 L253.0,20.98 L254.0,21.00 L255.0,21.02 L256.0,21.03 L257.0,21.05 L258.0,21.07 L259.0,21.08 L260.0,21.10 L261.0,21.12 L262.0,21.13 L263.0,21.15 L264.0,21.17 L265.0,21.18 L266.0,21.20 L267.0,21.22 L268.0,21.23 L269.0,21.25 L270.0,21.27 L271.0,21.28 L272.0,21.30 L273.0,21.32 L274.0,21.34 L275.0,21.35 L276.0,21.37 L277.0,21.39 L278.0,21.41 L279.0,21.43 L280.0,21.44 L281.0,21.46 L282.0,21.48 L283.0,21.50 L284.0,21.51 L285.0,21.53 L286.0,21.55 L287.0,21.57 L288.0,21.59 L289.0,21.61 L290.0,21.62 L291.0,21.64 L292.0,21.66 L293.0,21.68 L294.0,21.70 L295.0,21.72 L296.0,21.74 L297.0,21.75 L298.0,21.77 L299.0,21.79 L300.0,21.81 L301.0,21.83 L302.0,21.85 L303.0,21.87 L304.0,21.89 L305.0,21.91 L306.0,21.92 L307.0,21.94 L308.0,21.96 L309.0,21.98 L310.0,22.00 L311.0,22.02 L312.0,22.04 L313.0,22.06 L314.0,22.08 L315.0,22.10 L316.0,22.12 L317.0,22.14 L318.0,22.16 L319.0,22.18 L320.0,22.20 L321.0,22.22 L322.0,22.23 L323.0,22.26 L324.0,22.28 L325.0,22.30 L326.0,22.32 L327.0,22.34 L328.0,22.37 L329.0,22.39 L330.0,22.42 L331.0,22.45 L332.0,22.48 L333.0,22.51 L334.0,22.55 L335.0,22.59 L336.0,22.63 L337.0,22.67 L338.0,22.72 L339.0,22.77 L340.0,22.82 L341.0,22.88 L342.0,22.94 L343.0,23.00 L344.0,23.07 L345.0,23.14 L346.0,23.21 L347.0,23.29 L348.0,23.38 L349.0,23.47 L350.0,23.56 L351.0,23.66 L352.0,23.77 L353.0,23.88 L354.0,23.99 L355.0,24.12 L356.0,24.24 L357.0,24.38 L358.0,24.52 L359.0,24.66 L360.0,24.82 L361.0,24.98 L362.0,25.15 L363.0,25.32 L364.0,25.50 L365.0,25.69 L366.0,25.89 L367.0,26.09 L368.0,26.31 L369.0,26.53 L370.0,26.76 L371.0,27.00 L372.0,27.24 L373.0,27.50 L374.0,27.76 L375.0,28.04 L376.0,28.32 L377.0,28.61 L378.0,28.92 L379.0,29.23 L380.0,29.55 L381.0,29.89 L382.0,30.23 L383.0,30.58 L384.0,30.94 L385.0,31.32 L386.0,31.70 L387.0,32.09 L388.0,32.48 L389.0,32.89 L390.0,33.30 L391.0,33.72 L392.0,34.15 L393.0,34.59 L394.0,35.03 L395.0,35.49 L396.0,35.94 L397.0,36.41 L398.0,36.88 L399.0,37.35 L400.0,37.83 L401.0,38.32 L402.0,38.81 L403.0,39.31 L404.0,39.81 L405.0,40.31 L406.0,40.82 L407.0,41.33 L408.0,41.85 L409.0,42.37 L410.0,42.89 L411.0,43.42 L412.0,43.95 L413.0,44.48 L414.0,45.01 L415.0,45.55 L416.0,46.08 L417.0,46.62 L418.0,47.16 L419.0,47.70 L420.0,48.24 L421.0,48.78 L422.0,49.32 L423.0,49.86 L424.0,50.40 L425.0,50.95 L426.0,51.48 L427.0,52.02 L428.0,52.56 L429.0,53.10 L430.0,53.63 L431.0,54.16 L432.0,54.69 L433.0,55.22 L434.0,55.74 L435.0,56.26 L436.0,56.78 L437.0,57.29 L438.0,57.80 L439.0,58.31 L440.0,58.81 L441.0,59.31 L442.0,59.80 L443.0,60.29 L444.0,60.78 L445.0,61.26 L446.0,61.73 L447.0,62.21 L448.0,62.68 L449.0,63.14 L450.0,63.60 L451.0,64.06 L452.0,64.52 L453.0,64.97 L454.0,65.42 L455.0,65.86 L456.0,66.31 L457.0,66.75 L458.0,67.18 L459.0,67.62 L460.0,68.05 L461.0,68.48 L462.0,68.91 L463.0,69.34 L464.0,69.76 L465.0,70.18 L466.0,70.60 L467.0,71.02 L468.0,71.44 L469.0,71.86 L470.0,72.27 L471.0,72.68 L472.0,73.10 L473.0,73.51 L474.0,73.92 L475.0,74.33 L476.0,74.74 L477.0,75.15 L478.0,75.56 L479.0,75.96 L480.0,76.37 L481.0,76.78 L482.0,77.19 L483.0,77.59 L484.0,78.00 L485.0,78.41 L486.0,78.82 L487.0,79.23 L488.0,79.64 L489.0,80.05 L490.0,80.46 L491.0,80.87 L492.0,81.29 L493.0,81.70 L494.0,82.12 L495.0,82.53 L496.0,82.95 L497.0,83.37 L498.0,83.79 L499.0,84.21 L500.0,84.63 L501.0,85.05 L502.0,85.47 L503.0,85.89 L504.0,86.31 L505.0,86.73 L506.0,87.15 L507.0,87.58 L508.0,88.00 L509.0,88.42 L510.0,88.85 L511.0,89.27 L512.0,89.69 L513.0,90.12 L514.0,90.54 L515.0,90.96 L516.0,91.38 L517.0,91.81 L518.0,92.23 L519.0,92.65 L520.0,93.07 L521.0,93.50 L522.0,93.92 L523.0,94.34 L524.0,94.76 L525.0,95.19 L526.0,95.62 L527.0,96.05 L528.0,96.49 L529.0,96.93 L530.0,97.37 L531.0,97.82 L532.0,98.28 L533.0,98.75 L534.0,99.22 L535.0,99.70 L536.0,100.19 L537.0,100.69 L538.0,101.20 L539.0,101.72 L540.0,102.25 L541.0,102.79 L542.0,103.35 L543.0,103.92 L544.0,104.50 L545.0,105.10 L546.0,105.71 L547.0,106.34 L548.0,106.99 L549.0,107.65 L550.0,108.33 L551.0,109.02 L552.0,109.74 L553.0,110.47 L554.0,111.23 L555.0,112.00 L556.0,112.80 L557.0,113.61 L558.0,114.45 L559.0,115.30 L560.0,116.18 L561.0,117.08 L562.0,118.01 L563.0,118.95 L564.0,119.92 L565.0,120.92 L566.0,121.93 L567.0,122.98 L568.0,124.04 L569.0,125.14 L570.0,126.26 L571.0,127.40 L572.0,128.57 L573.0,129.77 L574.0,131.00 L575.0,132.25 L576.0,133.54 L577.0,134.85 L578.0,136.19 L579.0,137.56 L580.0,138.96 L581.0,140.39 L582.0,141.84 L583.0,143.33 L584.0,144.84 L585.0,146.39 L586.0,147.95 L587.0,149.55 L588.0,151.17 L589.0,152.82 L590.0,154.49 L591.0,156.19 L592.0,157.92 L593.0,159.67 L594.0,161.44 L595.0,163.24 L596.0,165.06 L597.0,166.90 L598.0,168.77 L599.0,170.65 L600.0,172.56 L601.0,174.49 L602.0,176.45 L603.0,178.42 L604.0,180.41 L605.0,182.43 L606.0,184.46 L607.0,186.51 L608.0,188.58 L609.0,190.67 L610.0,192.78 L611.0,194.90 L612.0,197.05 L613.0,199.20 L614.0,201.37 L615.0,203.54 L616.0,205.72 L617.0,207.89 L618.0,210.05 L619.0,212.20 L620.0,214.34 L621.0,216.46 L622.0,218.55 L623.0,220.61 L624.0,222.64 L625.0,224.63 L626.0,226.58 L627.0,228.49 L628.0,230.36 L629.0,232.19 L630.0,233.98 L631.0,235.75 L632.0,237.49 L633.0,239.19 L634.0,240.88 L635.0,242.55 L636.0,244.22 L637.0,245.88 L638.0,247.55 L639.0,249.22 L640.0,250.90 L641.0,252.60 L642.0,254.30 L643.0,256.03 L644.0,257.77 L645.0,259.52 L646.0,261.27 L647.0,263.02 L648.0,264.77 L649.0,266.51 L650.0,268.24 L651.0,269.98 L652.0,271.71 L653.0,273.44 L654.0,275.17 L655.0,276.89 L656.0,278.61 L657.0,280.33 L658.0,282.04 L659.0,283.75 L660.0,285.45 L661.0,287.14 L662.0,288.82 L663.0,290.50 L664.0,292.18 L665.0,293.86 L666.0,295.50 L667.0,297.17 L668.0,298.81 L669.0,300.20 L670.0,301.26 L671.0,302.20 L672.0,303.18 L673.0,304.16 L674.0,305.06 L675.0,305.80 L676.0,306.38 L677.0,306.88 L678.0,307.32 L679.0,307.75 L680.0,308.20 L681.0,308.68 L682.0,309.16 L683.0,309.63 L684.0,310.08 L685.0,310.50 L686.0,310.89 L687.0,311.27 L688.0,311.63 L689.0,311.98 L690.0,312.30 L691.0,312.60" stroke="#0000e6" stroke-width="2.8" fill="none" stroke-linejoin="round"/>
<path d="M100.8,22.49 L102.0,22.49 L103.0,22.55 L104.0,22.61 L105.0,22.66 L106.0,22.71 L107.0,22.76 L108.0,22.81 L109.0,22.85 L110.0,22.89 L111.0,22.93 L112.0,22.97 L113.0,23.01 L114.0,23.04 L115.0,23.07 L116.0,23.10 L117.0,23.13 L118.0,23.16 L119.0,23.19 L120.0,23.22 L121.0,23.24 L122.0,23.27 L123.0,23.29 L124.0,23.31 L125.0,23.33 L126.0,23.36 L127.0,23.38 L128.0,23.40 L129.0,23.42 L130.0,23.44 L131.0,23.46 L132.0,23.48 L133.0,23.50 L134.0,23.52 L135.0,23.55 L136.0,23.57 L137.0,23.59 L138.0,23.61 L139.0,23.64 L140.0,23.66 L141.0,23.69 L142.0,23.72 L143.0,23.75 L144.0,23.77 L145.0,23.81 L146.0,23.84 L147.0,23.87 L148.0,23.91 L149.0,23.94 L150.0,23.98 L151.0,24.02 L152.0,24.07 L153.0,24.11 L154.0,24.16 L155.0,24.21 L156.0,24.26 L157.0,24.32 L158.0,24.37 L159.0,24.43 L160.0,24.50 L161.0,24.56 L162.0,24.63 L163.0,24.70 L164.0,24.78 L165.0,24.86 L166.0,24.94 L167.0,25.03 L168.0,25.11 L169.0,25.21 L170.0,25.30 L171.0,25.40 L172.0,25.51 L173.0,25.62 L174.0,25.73 L175.0,25.85 L176.0,25.97 L177.0,26.10 L178.0,26.23 L179.0,26.36 L180.0,26.50 L181.0,26.65 L182.0,26.80 L183.0,26.95 L184.0,27.11 L185.0,27.27 L186.0,27.44 L187.0,27.61 L188.0,27.79 L189.0,27.97 L190.0,28.16 L191.0,28.34 L192.0,28.54 L193.0,28.73 L194.0,28.93 L195.0,29.14 L196.0,29.35 L197.0,29.56 L198.0,29.77 L199.0,29.99 L200.0,30.21 L201.0,30.43 L202.0,30.66 L203.0,30.89 L204.0,31.12 L205.0,31.35 L206.0,31.59 L207.0,31.83 L208.0,32.07 L209.0,32.32 L210.0,32.56 L211.0,32.81 L212.0,33.06 L213.0,33.31 L214.0,33.57 L215.0,33.82 L216.0,34.08 L217.0,34.34 L218.0,34.60 L219.0,34.87 L220.0,35.13 L221.0,35.39 L222.0,35.66 L223.0,35.93 L224.0,36.20 L225.0,36.47 L226.0,36.74 L227.0,37.01 L228.0,37.28 L229.0,37.56 L230.0,37.84 L231.0,38.12 L232.0,38.40 L233.0,38.68 L234.0,38.96 L235.0,39.25 L236.0,39.53 L237.0,39.82 L238.0,40.11 L239.0,40.41 L240.0,40.70 L241.0,41.00 L242.0,41.30 L243.0,41.60 L244.0,41.90 L245.0,42.21 L246.0,42.52 L247.0,42.83 L248.0,43.14 L249.0,43.45 L250.0,43.77 L251.0,44.09 L252.0,44.41 L253.0,44.73 L254.0,45.06 L255.0,45.39 L256.0,45.72 L257.0,46.05 L258.0,46.39 L259.0,46.73 L260.0,47.07 L261.0,47.42 L262.0,47.77 L263.0,48.12 L264.0,48.47 L265.0,48.83 L266.0,49.19 L267.0,49.55 L268.0,49.91 L269.0,50.28 L270.0,50.66 L271.0,51.03 L272.0,51.41 L273.0,51.79 L274.0,52.18 L275.0,52.56 L276.0,52.96 L277.0,53.35 L278.0,53.75 L279.0,54.15 L280.0,54.56 L281.0,54.97 L282.0,55.38 L283.0,55.80 L284.0,56.22 L285.0,56.64 L286.0,57.06 L287.0,57.49 L288.0,57.93 L289.0,58.36 L290.0,58.80 L291.0,59.24 L292.0,59.69 L293.0,60.13 L294.0,60.58 L295.0,61.04 L296.0,61.49 L297.0,61.95 L298.0,62.41 L299.0,62.88 L300.0,63.34 L301.0,63.81 L302.0,64.28 L303.0,64.75 L304.0,65.23 L305.0,65.70 L306.0,66.18 L307.0,66.66 L308.0,67.15 L309.0,67.63 L310.0,68.12 L311.0,68.60 L312.0,69.09 L313.0,69.59 L314.0,70.08 L315.0,70.57 L316.0,71.07 L317.0,71.57 L318.0,72.06 L319.0,72.56 L320.0,73.06 L321.0,73.57 L322.0,74.07 L323.0,74.57 L324.0,75.08 L325.0,75.58 L326.0,76.09 L327.0,76.60 L328.0,77.11 L329.0,77.62 L330.0,78.12 L331.0,78.63 L332.0,79.14 L333.0,79.66 L334.0,80.17 L335.0,80.68 L336.0,81.19 L337.0,81.70 L338.0,82.21 L339.0,82.72 L340.0,83.23 L341.0,83.75 L342.0,84.26 L343.0,84.77 L344.0,85.28 L345.0,85.79 L346.0,86.30 L347.0,86.81 L348.0,87.32 L349.0,87.82 L350.0,88.33 L351.0,88.84 L352.0,89.34 L353.0,89.85 L354.0,90.35 L355.0,90.86 L356.0,91.36 L357.0,91.86 L358.0,92.37 L359.0,92.87 L360.0,93.37 L361.0,93.87 L362.0,94.37 L363.0,94.87 L364.0,95.36 L365.0,95.86 L366.0,96.36 L367.0,96.86 L368.0,97.35 L369.0,97.85 L370.0,98.34 L371.0,98.84 L372.0,99.33 L373.0,99.83 L374.0,100.32 L375.0,100.81 L376.0,101.31 L377.0,101.80 L378.0,102.29 L379.0,102.78 L380.0,103.28 L381.0,103.77 L382.0,104.26 L383.0,104.75 L384.0,105.24 L385.0,105.73 L386.0,106.22 L387.0,106.71 L388.0,107.20 L389.0,107.69 L390.0,108.18 L391.0,108.67 L392.0,109.16 L393.0,109.64 L394.0,110.13 L395.0,110.62 L396.0,111.11 L397.0,111.60 L398.0,112.09 L399.0,112.58 L400.0,113.06 L401.0,113.55 L402.0,114.04 L403.0,114.53 L404.0,115.02 L405.0,115.51 L406.0,116.00 L407.0,116.49 L408.0,116.97 L409.0,117.46 L410.0,117.95 L411.0,118.44 L412.0,118.93 L413.0,119.42 L414.0,119.91 L415.0,120.40 L416.0,120.89 L417.0,121.38 L418.0,121.87 L419.0,122.36 L420.0,122.85 L421.0,123.35 L422.0,123.84 L423.0,124.33 L424.0,124.82 L425.0,125.32 L426.0,125.81 L427.0,126.30 L428.0,126.80 L429.0,127.29 L430.0,127.79 L431.0,128.29 L432.0,128.78 L433.0,129.28 L434.0,129.78 L435.0,130.28 L436.0,130.78 L437.0,131.28 L438.0,131.78 L439.0,132.29 L440.0,132.79 L441.0,133.30 L442.0,133.80 L443.0,134.31 L444.0,134.82 L445.0,135.33 L446.0,135.84 L447.0,136.36 L448.0,136.87 L449.0,137.39 L450.0,137.90 L451.0,138.42 L452.0,138.94 L453.0,139.46 L454.0,139.98 L455.0,140.51 L456.0,141.04 L457.0,141.56 L458.0,142.09 L459.0,142.62 L460.0,143.16 L461.0,143.69 L462.0,144.23 L463.0,144.77 L464.0,145.31 L465.0,145.85 L466.0,146.40 L467.0,146.94 L468.0,147.49 L469.0,148.04 L470.0,148.60 L471.0,149.15 L472.0,149.71 L473.0,150.27 L474.0,150.83 L475.0,151.40 L476.0,151.96 L477.0,152.53 L478.0,153.10 L479.0,153.68 L480.0,154.26 L481.0,154.84 L482.0,155.42 L483.0,156.00 L484.0,156.59 L485.0,157.18 L486.0,157.78 L487.0,158.37 L488.0,158.97 L489.0,159.57 L490.0,160.18 L491.0,160.79 L492.0,161.40 L493.0,162.01 L494.0,162.63 L495.0,163.25 L496.0,163.87 L497.0,164.50 L498.0,165.13 L499.0,165.76 L500.0,166.40 L501.0,167.04 L502.0,167.68 L503.0,168.33 L504.0,168.98 L505.0,169.63 L506.0,170.29 L507.0,170.95 L508.0,171.62 L509.0,172.28 L510.0,172.96 L511.0,173.63 L512.0,174.31 L513.0,174.99 L514.0,175.68 L515.0,176.37 L516.0,177.06 L517.0,177.76 L518.0,178.46 L519.0,179.16 L520.0,179.87 L521.0,180.58 L522.0,181.30 L523.0,182.02 L524.0,182.74 L525.0,183.47 L526.0,184.20 L527.0,184.93 L528.0,185.67 L529.0,186.42 L530.0,187.16 L531.0,187.91 L532.0,188.67 L533.0,189.43 L534.0,190.19 L535.0,190.96 L536.0,191.73 L537.0,192.50 L538.0,193.28 L539.0,194.06 L540.0,194.85 L541.0,195.64 L542.0,196.44 L543.0,197.24 L544.0,198.04 L545.0,198.85 L546.0,199.66 L547.0,200.48 L548.0,201.30 L549.0,202.12 L550.0,202.95 L551.0,203.79 L552.0,204.62 L553.0,205.47 L554.0,206.31 L555.0,207.16 L556.0,208.02 L557.0,208.88 L558.0,209.75 L559.0,210.61 L560.0,211.49 L561.0,212.37 L562.0,213.25 L563.0,214.14 L564.0,215.03 L565.0,215.93 L566.0,216.83 L567.0,217.73 L568.0,218.65 L569.0,219.56 L570.0,220.48 L571.0,221.41 L572.0,222.34 L573.0,223.28 L574.0,224.23 L575.0,225.18 L576.0,226.13 L577.0,227.10 L578.0,228.06 L579.0,229.04 L580.0,230.02 L581.0,231.01 L582.0,232.00 L583.0,233.00 L584.0,234.01 L585.0,235.02 L586.0,236.04 L587.0,237.07 L588.0,238.10 L589.0,239.15 L590.0,240.20 L591.0,241.25 L592.0,242.32 L593.0,243.39 L594.0,244.47 L595.0,245.56 L596.0,246.66 L597.0,247.76 L598.0,248.87 L599.0,249.99 L600.0,251.12 L601.0,252.26 L602.0,253.41 L603.0,254.56 L604.0,255.73 L605.0,256.90 L606.0,258.08 L607.0,259.26 L608.0,260.45 L609.0,261.64 L610.0,262.83 L611.0,264.02 L612.0,265.20 L613.0,266.38 L614.0,267.56 L615.0,268.73 L616.0,269.88 L617.0,271.03 L618.0,272.17 L619.0,273.29 L620.0,274.40 L621.0,275.49 L622.0,276.56 L623.0,277.62 L624.0,278.66 L625.0,279.68 L626.0,280.69 L627.0,281.67 L628.0,282.65 L629.0,283.60 L630.0,284.54 L631.0,285.46 L632.0,286.37 L633.0,287.21 L634.0,288.03 L635.0,288.85 L636.0,289.65 L637.0,290.44 L638.0,291.22 L639.0,291.99 L640.0,292.74 L641.0,293.49 L642.0,294.24 L643.0,295.00 L644.0,295.75 L645.0,296.50 L646.0,297.24 L647.0,297.97 L648.0,298.69 L649.0,299.36 L650.0,300.00 L651.0,300.60 L652.0,301.16 L653.0,301.69 L654.0,302.20 L655.0,302.70 L656.0,303.19 L657.0,303.67 L658.0,304.14 L659.0,304.58 L660.0,305.00 L661.0,305.39 L662.0,305.74 L663.0,306.09 L664.0,306.43 L665.0,306.80 L666.0,307.20 L667.0,307.61 L668.0,308.03 L669.0,308.43 L670.0,308.80 L671.0,309.13 L672.0,309.45 L673.0,309.75 L674.0,310.04 L675.0,310.30 L676.0,310.55 L677.0,310.77 L678.0,310.99 L679.0,311.20 L680.0,311.40 L681.0,311.59 L682.0,311.78 L683.0,311.95 L684.0,312.13 L685.0,312.30 L686.0,312.47 L687.0,312.64 L688.0,312.81 L689.0,312.98 L690.0,313.14 L691.0,313.30" stroke="#ffa500" stroke-width="2.7" fill="none" stroke-linejoin="round"/>
<text class="t" x="432.50" y="202.70" font-size="21.2" text-anchor="end" textLength="161.00" lengthAdjust="spacingAndGlyphs">No interruptions</text>
<path d="M440,200.00 H479" stroke="#000000" stroke-width="2.2" fill="none"/>
<path d="M454.5,200.00h10M459.5,195.00v10" stroke="#000" stroke-width="2" fill="none"/>
<text class="t" x="432.50" y="226.90" font-size="21.2" text-anchor="end" textLength="135.27" lengthAdjust="spacingAndGlyphs">1 interruption</text>
<path d="M440,224.20 H479" stroke="#e01b24" stroke-width="2.3" fill="none"/>
<path d="M456.5,221.20l6,6M456.5,227.20l6,-6" stroke="#e01b24" stroke-width="2.2" fill="none"/>
<text class="t" x="432.50" y="251.10" font-size="21.2" text-anchor="end" textLength="137.37" lengthAdjust="spacingAndGlyphs">Between 2 e 9</text>
<path d="M440,248.40 H479" stroke="#1ebe1e" stroke-width="3.0" fill="none"/>
<text class="t" x="432.50" y="275.30" font-size="21.2" text-anchor="end" textLength="105.36" lengthAdjust="spacingAndGlyphs">10 or more</text>
<path d="M440,272.60 H479" stroke="#0000e6" stroke-width="2.5" fill="none"/>
<text class="t" x="432.50" y="299.50" font-size="21.2" text-anchor="end" textLength="86.18" lengthAdjust="spacingAndGlyphs">All users</text>
<path d="M440,296.80 H479" stroke="#ffa500" stroke-width="2.3" fill="none"/>
<text class="t" x="91.40" y="316.50" font-size="21.2" text-anchor="end" textLength="12.09" lengthAdjust="spacingAndGlyphs">0</text>
<text class="t" x="91.40" y="287.10" font-size="21.2" text-anchor="end" textLength="30.22" lengthAdjust="spacingAndGlyphs">0.1</text>
<text class="t" x="91.40" y="257.70" font-size="21.2" text-anchor="end" textLength="30.22" lengthAdjust="spacingAndGlyphs">0.2</text>
<text class="t" x="91.40" y="228.30" font-size="21.2" text-anchor="end" textLength="30.22" lengthAdjust="spacingAndGlyphs">0.3</text>
<text class="t" x="91.40" y="198.90" font-size="21.2" text-anchor="end" textLength="30.22" lengthAdjust="spacingAndGlyphs">0.4</text>
<text class="t" x="91.40" y="169.50" font-size="21.2" text-anchor="end" textLength="30.22" lengthAdjust="spacingAndGlyphs">0.5</text>
<text class="t" x="91.40" y="140.10" font-size="21.2" text-anchor="end" textLength="30.22" lengthAdjust="spacingAndGlyphs">0.6</text>
<text class="t" x="91.40" y="110.70" font-size="21.2" text-anchor="end" textLength="30.22" lengthAdjust="spacingAndGlyphs">0.7</text>
<text class="t" x="91.40" y="81.30" font-size="21.2" text-anchor="end" textLength="30.22" lengthAdjust="spacingAndGlyphs">0.8</text>
<text class="t" x="91.40" y="51.90" font-size="21.2" text-anchor="end" textLength="30.22" lengthAdjust="spacingAndGlyphs">0.9</text>
<text class="t" x="91.40" y="22.50" font-size="21.2" text-anchor="end" textLength="12.09" lengthAdjust="spacingAndGlyphs">1</text>
<text class="t" x="230.20" y="330.20" font-size="21.2" text-anchor="middle" textLength="33.93" lengthAdjust="spacingAndGlyphs">10s</text>
<text class="t" x="330.97" y="330.20" font-size="21.2" text-anchor="middle" textLength="48.42" lengthAdjust="spacingAndGlyphs">1min</text>
<text class="t" x="460.47" y="330.20" font-size="21.2" text-anchor="middle" textLength="60.51" lengthAdjust="spacingAndGlyphs">10min</text>
<text class="t" x="561.24" y="330.20" font-size="21.2" text-anchor="middle" textLength="24.33" lengthAdjust="spacingAndGlyphs">1h</text>
<text class="t" x="678.19" y="330.20" font-size="21.2" text-anchor="middle" textLength="24.33" lengthAdjust="spacingAndGlyphs">8h</text>
<text class="t" x="380.30" y="377.10" font-size="27.4" text-anchor="middle" textLength="291.20" lengthAdjust="spacingAndGlyphs">Users viewing duration</text>
<text class="t" x="26.80" y="193.75" font-size="27.4" text-anchor="middle" textLength="74.44" lengthAdjust="spacingAndGlyphs" transform="rotate(-90 26.8 193.75)">CCDF</text>
</svg></body></html>
